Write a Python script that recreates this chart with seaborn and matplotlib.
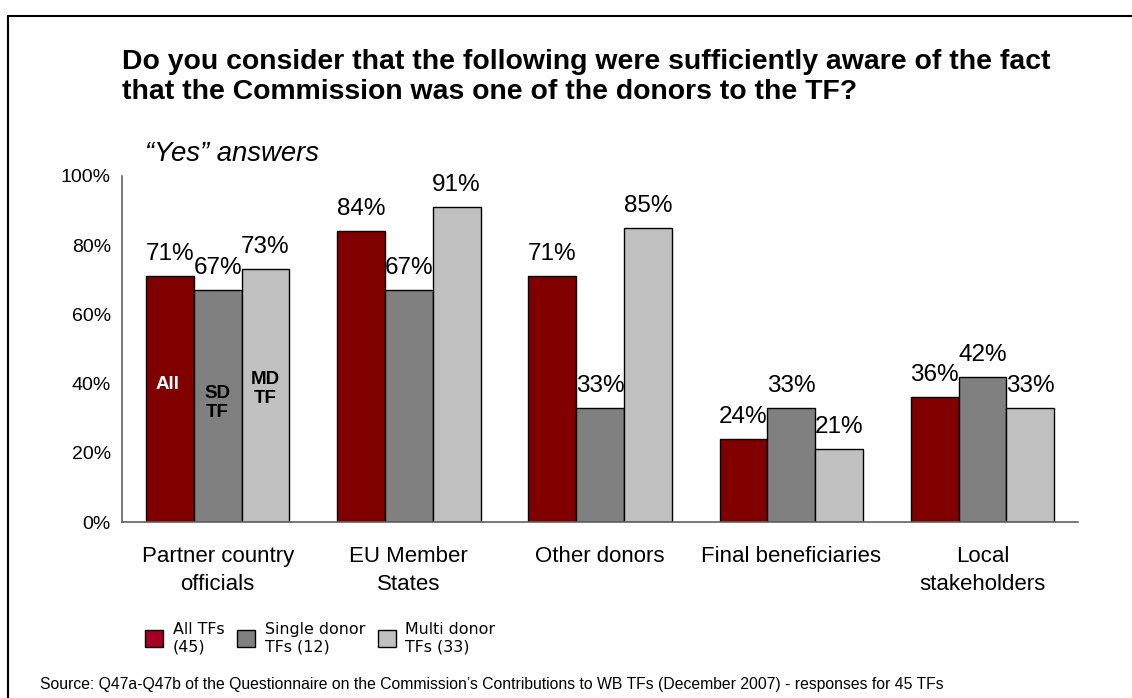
import pandas as pd
import matplotlib.pyplot as plt
import seaborn as sns
from matplotlib.patches import Patch
from matplotlib.lines import Line2D

# data
categories = ['Partner country\nofficials', 'EU Member\nStates', 'Other donors',
              'Final beneficiaries', 'Local\nstakeholders']
series = ['All TFs (45)', 'Single donor TFs (12)', 'Multi donor TFs (33)']
all_tfs = [71, 84, 71, 24, 36]
single_donor = [67, 67, 33, 33, 42]
multi_donor = [73, 91, 85, 21, 33]

bar_colors = ['#800000', '#808080', '#C0C0C0']
legend_colors = ['#A50021', '#808080', '#C0C0C0']
legend_labels = ['All TFs\n(45)', 'Single donor\nTFs (12)', 'Multi donor\nTFs (33)']

rows = []
for s, vals in zip(series, [all_tfs, single_donor, multi_donor]):
    for c, v in zip(categories, vals):
        rows.append({'category': c, 'series': s, 'value': v})
df = pd.DataFrame(rows)

sns.set_style('white')
plt.rcParams['font.family'] = ['Liberation Sans', 'DejaVu Sans']
plt.rcParams['text.color'] = 'black'
plt.rcParams['xtick.labelcolor'] = 'black'
plt.rcParams['ytick.labelcolor'] = 'black'

fig = plt.figure(figsize=(11.32, 6.98), dpi=100)
ax = fig.add_axes([0.1078, 0.2521, 0.8445, 0.4958])

sns.barplot(data=df, x='category', y='value', hue='series', order=categories,
            hue_order=series, palette=bar_colors, edgecolor='black',
            linewidth=1, width=0.75, ax=ax, legend=False, saturation=1)

for cont in ax.containers:
    ax.bar_label(cont, fmt='%d%%', padding=8, fontsize=17.5, color='black')

# labels inside the first group
ax.text(-0.26, 39.6, 'All', color='white', fontsize=13.5, fontweight='bold',
        ha='center', va='center')
ax.text(0.0, 34.4, 'SD\nTF', color='black', fontsize=13.5, fontweight='bold',
        ha='center', va='center', linespacing=1.15)
ax.text(0.25, 38.4, 'MD\nTF', color='black', fontsize=13.5, fontweight='bold',
        ha='center', va='center', linespacing=1.15)

ax.set_xlim(-0.5, 4.5)
ax.set_ylim(0, 100)
ax.set_yticks(range(0, 101, 20))
ax.set_yticklabels([f'{t}%' for t in range(0, 101, 20)], fontsize=14)
ax.set_xticks([i - 0.5 for i in range(6)])
ax.set_xticklabels([])
ax.set_xticks(range(5), minor=True)
ax.set_xticklabels(categories, minor=True, fontsize=16, linespacing=1.45)
ax.tick_params(axis='x', which='minor', length=0, pad=17)
ax.tick_params(axis='both', which='major', length=5, width=1.2, color='#606060',
               direction='out')
ax.tick_params(axis='y', pad=3)
ax.set_xlabel('')
ax.set_ylabel('')
sns.despine(ax=ax)
for sp in ['left', 'bottom']:
    ax.spines[sp].set_color('#606060')
    ax.spines[sp].set_linewidth(1.2)

fig.text(122 / 1132, 1 - 77 / 698,
         'Do you consider that the following were sufficiently aware of the fact\n'
         'that the Commission was one of the donors to the TF?',
         fontsize=20.4, fontweight='bold', ha='left', va='center', linespacing=1.2)
fig.text(145 / 1132, 1 - 154 / 698, '\u201cYes\u201d answers', fontsize=19.8,
         style='italic', ha='left', va='center')

handles = [Patch(facecolor=c, edgecolor='black', linewidth=1) for c in legend_colors]
fig.legend(handles, legend_labels, loc='center left',
           bbox_to_anchor=(145 / 1132, 1 - 638 / 698), ncol=3, frameon=False,
           prop={'family': 'DejaVu Sans', 'size': 11.4}, handlelength=1.15,
           handleheight=1.3, handletextpad=0.6, columnspacing=0.8,
           borderaxespad=0, borderpad=0, labelspacing=0)

fig.text(40 / 1132, 1 - 685 / 698,
         'Source: Q47a-Q47b of the Questionnaire on the Commission\u2019s Contributions '
         'to WB TFs (December 2007) - responses for 45 TFs',
         fontsize=11.3, ha='left', va='center')

# frame lines around the slide
fig.add_artist(Line2D([8 / 1132, 8 / 1132], [0, 1 - 16 / 698], color='black', lw=1.5))
fig.add_artist(Line2D([8 / 1132, 1], [1 - 16 / 698, 1 - 16 / 698], color='black', lw=1.5))

fig.savefig('out.png', dpi=100)
